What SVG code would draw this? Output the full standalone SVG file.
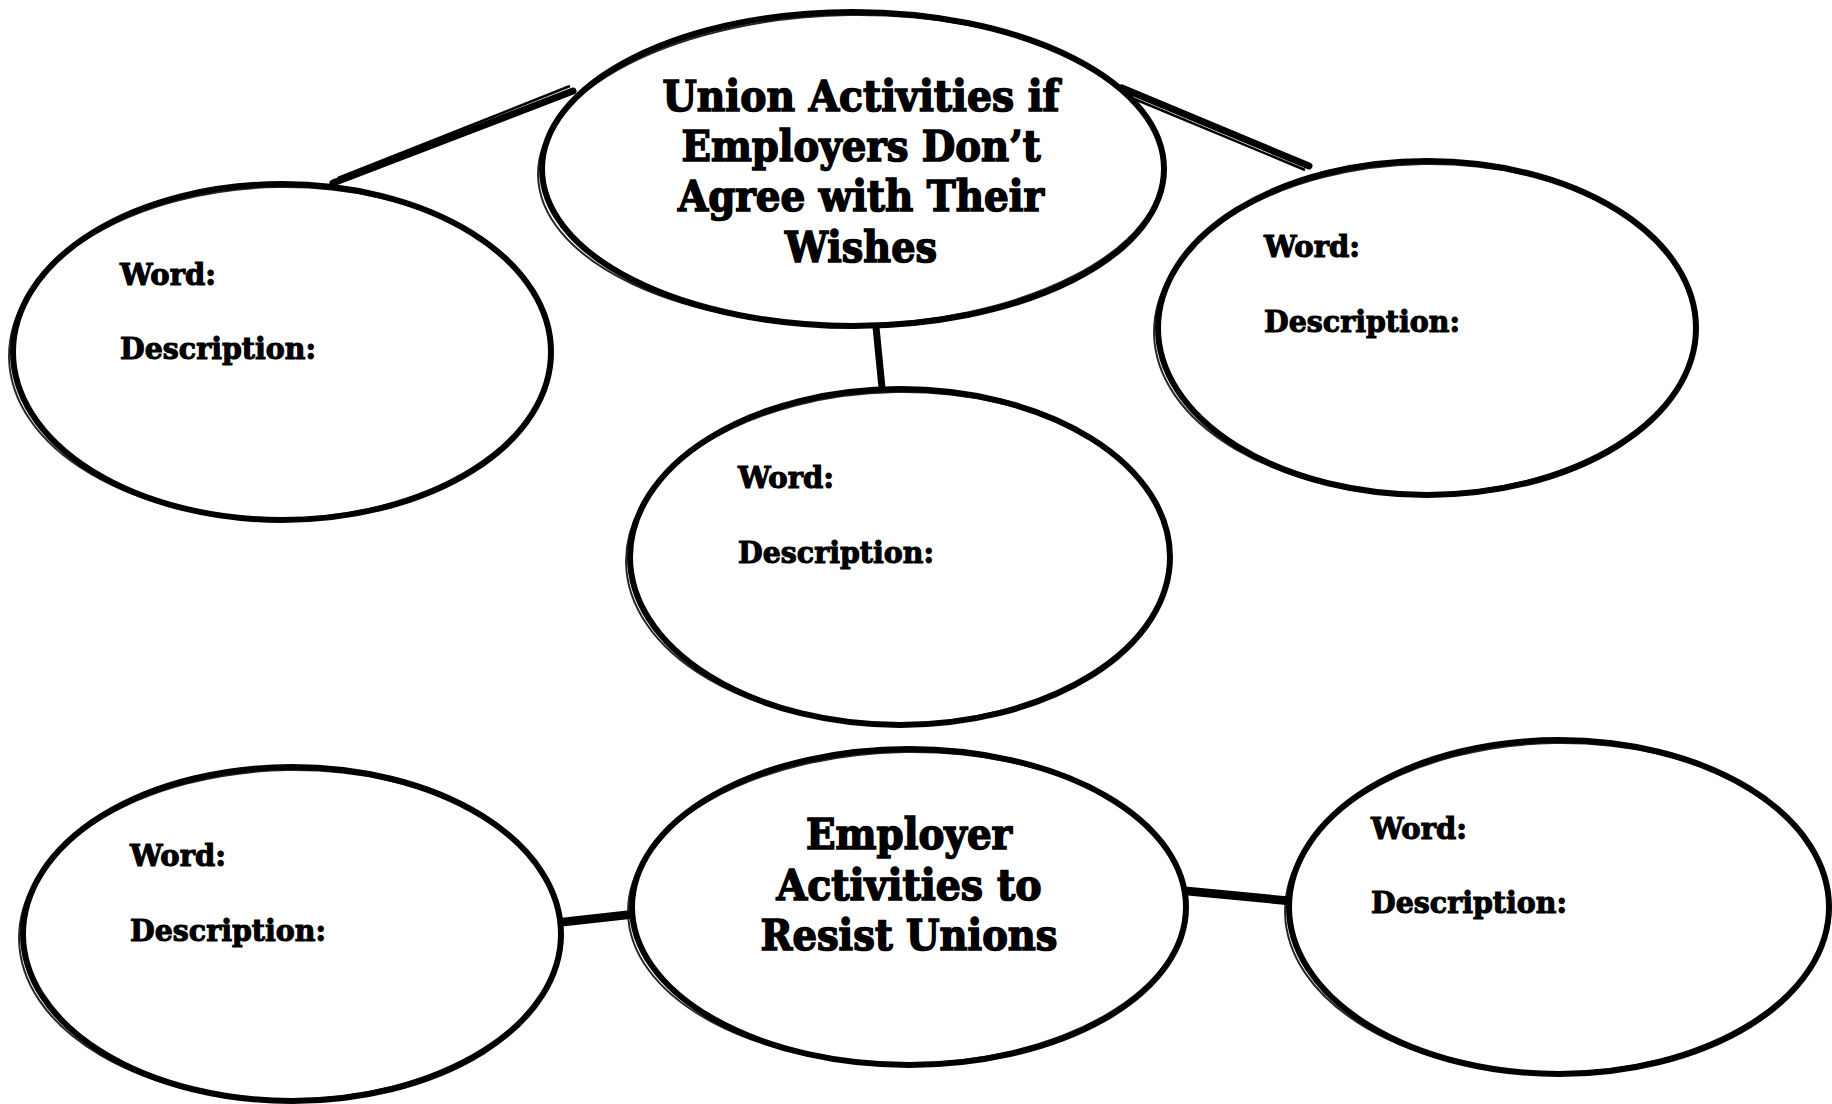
<svg xmlns="http://www.w3.org/2000/svg" width="1832" height="1104" viewBox="0 0 1832 1104">
<style>
.bg{fill:#fff}
.ell{fill:#fff;stroke:#000;stroke-width:6}
.ell2{fill:none;stroke:#000;stroke-width:2;opacity:.85}
.con{stroke:#000;stroke-width:7;stroke-linecap:round;fill:none}
.con2{stroke:#000;stroke-width:2.5;fill:none}
.t{font-family:"DejaVu Serif","Liberation Serif",serif;font-weight:bold;fill:#000;stroke:#000}
.title{font-size:42px;text-anchor:middle;stroke-width:1.6}
.lab{font-size:30px;stroke-width:1.1}
</style>
<rect class="bg" x="0" y="0" width="1832" height="1104"/>
<g id="connectors">
<path class="con" d="M333,183 L573,91"/>
<path class="con2" d="M338,178 L570,86"/>
<path class="con" d="M1122,88 L1309,166"/>
<path class="con2" d="M1120,93 L1305,170"/>
<path class="con" d="M876,327 L882,388"/>
<path class="con" d="M562,923 L634,915"/>
<path class="con2" d="M562,919 L634,911"/>
<path class="con" d="M1185,890 L1289,900"/>
<path class="con2" d="M1185,894 L1289,904"/>
</g>
<g id="node-top-center">
<ellipse class="ell" cx="853" cy="169" rx="311" ry="157"/>
<ellipse class="ell2" cx="851" cy="170" rx="313" ry="155" transform="rotate(-1 853 169)"/>
<text class="t title" x="861" y="111" textLength="397" lengthAdjust="spacingAndGlyphs">Union Activities if</text>
<text class="t title" x="861" y="161" textLength="359" lengthAdjust="spacingAndGlyphs">Employers Don’t</text>
<text class="t title" x="861" y="211" textLength="366" lengthAdjust="spacingAndGlyphs">Agree with Their</text>
<text class="t title" x="861" y="262" textLength="152" lengthAdjust="spacingAndGlyphs">Wishes</text>
</g>
<g id="node-top-left">
<ellipse class="ell" cx="282" cy="352" rx="269" ry="168"/>
<ellipse class="ell2" cx="280" cy="353" rx="271" ry="166" transform="rotate(-1 282 352)"/>
<text class="t lab" x="120" y="285" textLength="96" lengthAdjust="spacingAndGlyphs">Word:</text>
<text class="t lab" x="120" y="359" textLength="196" lengthAdjust="spacingAndGlyphs">Description:</text>
</g>
<g id="node-top-right">
<ellipse class="ell" cx="1427" cy="328" rx="269" ry="167"/>
<ellipse class="ell2" cx="1425" cy="329" rx="271" ry="165" transform="rotate(-1 1427 328)"/>
<text class="t lab" x="1264" y="257" textLength="96" lengthAdjust="spacingAndGlyphs">Word:</text>
<text class="t lab" x="1264" y="332" textLength="196" lengthAdjust="spacingAndGlyphs">Description:</text>
</g>
<g id="node-middle">
<ellipse class="ell" cx="900" cy="557" rx="270" ry="168"/>
<ellipse class="ell2" cx="898" cy="558" rx="272" ry="166" transform="rotate(-1 900 557)"/>
<text class="t lab" x="738" y="488" textLength="96" lengthAdjust="spacingAndGlyphs">Word:</text>
<text class="t lab" x="738" y="563" textLength="196" lengthAdjust="spacingAndGlyphs">Description:</text>
</g>
<g id="node-bottom-left">
<ellipse class="ell" cx="292" cy="934" rx="269" ry="167"/>
<ellipse class="ell2" cx="290" cy="935" rx="271" ry="165" transform="rotate(-1 292 934)"/>
<text class="t lab" x="130" y="866" textLength="96" lengthAdjust="spacingAndGlyphs">Word:</text>
<text class="t lab" x="130" y="941" textLength="196" lengthAdjust="spacingAndGlyphs">Description:</text>
</g>
<g id="node-bottom-center">
<ellipse class="ell" cx="909" cy="907" rx="277" ry="158"/>
<ellipse class="ell2" cx="907" cy="908" rx="279" ry="156" transform="rotate(-1 909 907)"/>
<text class="t title" x="909" y="849" textLength="206" lengthAdjust="spacingAndGlyphs">Employer</text>
<text class="t title" x="909" y="900" textLength="265" lengthAdjust="spacingAndGlyphs">Activities to</text>
<text class="t title" x="909" y="950" textLength="297" lengthAdjust="spacingAndGlyphs">Resist Unions</text>
</g>
<g id="node-bottom-right">
<ellipse class="ell" cx="1559" cy="907" rx="270" ry="167"/>
<ellipse class="ell2" cx="1557" cy="908" rx="272" ry="165" transform="rotate(-1 1559 907)"/>
<text class="t lab" x="1371" y="839" textLength="96" lengthAdjust="spacingAndGlyphs">Word:</text>
<text class="t lab" x="1371" y="913" textLength="196" lengthAdjust="spacingAndGlyphs">Description:</text>
</g>
</svg>
